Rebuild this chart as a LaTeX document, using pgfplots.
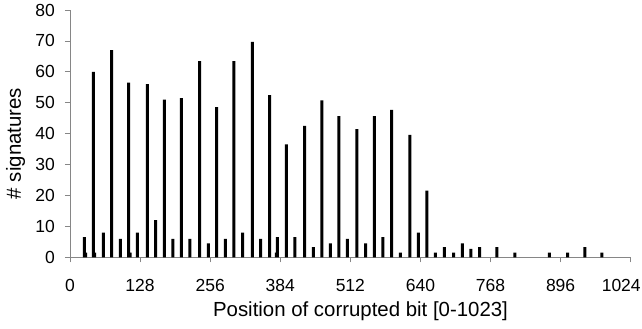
\documentclass[border=0pt]{standalone}
\usepackage{pgfplots}
\usepackage{pgfplotstable}
\pgfplotsset{compat=1.18}
\usepackage{fontspec}
\setmainfont{Liberation Sans}
\definecolor{axisgray}{HTML}{868686}
\pgfplotstableread{
x y
26.1 6.5
28.7 1.5
42.6 60
45.1 1.5
60.8 8
76.1 67
91.9 6
107.2 56.5
109.6 1.5
122.9 8
141.2 56
156.5 12
172.2 51
188.1 6
203.3 51.5
219.1 6
236.9 63.5
252.6 4.5
267.9 48.6
283.6 6
299.5 63.5
315.4 8
332.9 69.7
348.2 6
364.7 52.5
376.7 1.5
378.6 6.5
395 36.5
410.9 6.5
428.6 42.5
444.3 3.3
460.2 50.8
475.3 4.5
491.2 45.7
506.4 6
524.1 41.5
540 4.5
555.7 45.7
571.6 6.5
587.5 47.7
603.2 1.5
620.9 39.6
636 8
651.9 21.6
667.4 1.5
683.5 3.3
700.7 1.5
716.4 4.5
732.3 2.7
748.2 3.3
779.8 3.3
812.6 1.5
875.3 1.5
908.9 1.5
940.5 3.3
971.5 1.5
}\datatable
\begin{document}
\begin{tikzpicture}
\useasboundingbox (-70pt,-71.7pt) rectangle (572pt,257.3pt);
\begin{axis}[
  at={(0,0)}, anchor=south west,
  scale only axis,
  width=560.7pt, height=247.3pt,
  xmin=0, xmax=1024, ymin=0, ymax=80,
  xtick={0,128,256,384,512,640,768,896,1024},
  xticklabels={0,128,256,384,512,640,768,896,{\makebox[20pt][r]{1024}}},
  ytick={0,10,...,80},
  axis x line=bottom, axis y line=left,
  axis line style={-, draw=axisgray, line width=0.8pt},
  tick style={draw=axisgray, line width=0.8pt},
  tick align=outside,
  major tick length=5pt,
  /pgf/number format/assume math mode=true,
  /pgf/number format/1000 sep={},
  ticklabel style={font=\fontsize{17.5pt}{20pt}\selectfont, text=black},
  yticklabel style={anchor=east, inner sep=0pt, xshift=-10pt},
  xticklabel style={anchor=north, inner sep=0pt, yshift=-16.7pt},
  xlabel={Position of corrupted bit [0-1023]},
  ylabel={\# signatures},
  label style={font=\fontsize{20.4pt}{24pt}\selectfont},
  xlabel style={at={(axis description cs:0.5181,-0.2402)}, anchor=base, inner sep=0pt},
  ylabel style={at={(axis description cs:-0.0972,0.4602)}, anchor=center, inner sep=0pt},
  clip=false,
]
\addplot[ybar, fill=black, draw=none, bar width=3pt] table[x=x, y=y] {\datatable};
\end{axis}
\end{tikzpicture}
\end{document}
